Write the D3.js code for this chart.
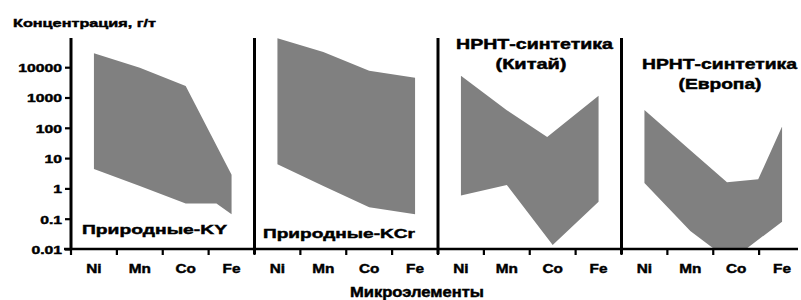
<!DOCTYPE html>
<html><head><meta charset="utf-8">
<script src="https://cdn.jsdelivr.net/npm/d3@7"></script>
<style>
body{margin:0;background:#fff;}
text{font-family:"Liberation Sans",Arial,sans-serif;font-weight:bold;fill:#000;stroke:#000;stroke-width:0.45px;}
</style></head>
<body><svg id="c" width="801" height="300"></svg>
<script>
// ---- data ----
const elements = ["Ni","Mn","Co","Fe"];
const panelNames = ["Природные-KY","Природные-KCr","НРНТ-синтетика (Китай)","НРНТ-синтетика (Европа)"];
const yTickValues = [0.01,0.1,1,10,100,1000,10000];
const yTickLabels = ["0.01","0.1","1","10","100","1000","10000"];
// [element position (0=Ni..3=Fe), concentration g/t]
const kyUpper  = [[0,29000],[1,9600],[2,2400],[3,2.8]];
const kyLower  = [[0,4.4],[1,1.2],[2,0.32],[2.67,0.32],[3,0.14]];
const kcrUpper = [[0,90000],[1,32000],[2,7600],[3,4500]];
const kcrLower = [[0,6.3],[1,1.2],[2,0.24],[3,0.14]];
const chinaUpper = [[0,5200],[1,380],[1.88,50],[3,1150]];
const chinaLower = [[0,0.58],[1,1.3],[2,0.0135],[3,0.36]];
const europeUpper = [[0,390],[1,18],[1.8,1.6],[2.48,2.0],[3,110]];
const europeLower = [[0,1.5],[1,0.039],[1.87,0.004],[3,0.08]];
const uppers = [kyUpper,kcrUpper,chinaUpper,europeUpper];
const lowers = [kyLower,kcrLower,chinaLower,europeLower];

// ---- layout ----
const svg = d3.select("#c");
const plotTop = 38, axisY = 249;
const keys = panelNames.flatMap((p,i)=>elements.map(e=>i+"-"+e));
const x = d3.scaleBand().domain(keys).range([71,805]).padding(0);
const y = d3.scaleLog().domain([0.01,10000]).range([axisY, axisY-6*30.3]);
const px = (pi,pos)=> x(pi+"-Ni") + x.bandwidth()/2 + pos*x.step();

function stretch(sel, w){ sel.attr("textLength", w).attr("lengthAdjust","spacingAndGlyphs"); }
function stretchBy(sel, f){ sel.each(function(){ const n=this.getComputedTextLength(); d3.select(this).attr("textLength", n*f).attr("lengthAdjust","spacingAndGlyphs"); }); }

// clip
svg.append("clipPath").attr("id","clip").append("rect")
  .attr("x",71).attr("y",0).attr("width",734).attr("height",axisY);

// areas
const g = svg.append("g").attr("clip-path","url(#clip)");
uppers.forEach((up,i)=>{
  const pts = up.concat(lowers[i].slice().reverse());
  const line = d3.line().x(d=>px(i,d[0])).y(d=>y(d[1]));
  g.append("path").attr("d", line(pts)+"Z").attr("fill","#808080");
});

// y axis
const yAxis = svg.append("g").attr("transform","translate(71,0)")
  .call(d3.axisLeft(y).tickValues(yTickValues).tickSize(6).tickPadding(3)
    .tickFormat((d,i)=>yTickLabels[i]));
yAxis.select(".domain").remove();
yAxis.selectAll(".tick line").attr("stroke","#000").attr("stroke-width",2.2);
yAxis.selectAll(".tick text").attr("font-size","11.8px").attr("font-family",null).attr("dy","0.38em").attr("x",-9);
stretchBy(yAxis.selectAll(".tick text"),1.33);
svg.append("line").attr("x1",71).attr("x2",71).attr("y1",plotTop).attr("y2",axisY+1)
  .attr("stroke","#000").attr("stroke-width",3);

// panel separators
[1,2,3].forEach(i=>{
  svg.append("line").attr("x1",x(i+"-Ni")).attr("x2",x(i+"-Ni"))
    .attr("y1",plotTop).attr("y2",axisY+5).attr("stroke","#000").attr("stroke-width",3);
});

// x axis
svg.append("line").attr("x1",64).attr("x2",798).attr("y1",axisY).attr("y2",axisY)
  .attr("stroke","#000").attr("stroke-width",2.4);
keys.forEach(k=>{
  svg.append("line").attr("x1",x(k)).attr("x2",x(k)).attr("y1",axisY).attr("y2",axisY+6)
    .attr("stroke","#000").attr("stroke-width",2.2);
});
const xl = svg.append("g").selectAll("text").data(keys).join("text")
  .attr("x",k=>x(k)+x.bandwidth()/2).attr("y",273).attr("text-anchor","middle")
  .attr("font-size","13px").text(k=>k.split("-")[1]);
stretchBy(xl,1.18);

// titles
stretch(svg.append("text").attr("x",13).attr("y",27).attr("font-size","11.8px").text("Концентрация, г/т"),143);
stretch(svg.append("text").attr("x",350).attr("y",297).attr("font-size","14px").text("Микроэлементы"),134);

// panel labels
stretch(svg.append("text").attr("x",82).attr("y",234).attr("font-size","13.3px").text("Природные-KY"),145);
stretch(svg.append("text").attr("x",263).attr("y",237.5).attr("font-size","13.3px").text("Природные-KCr"),152);
stretch(svg.append("text").attr("x",456).attr("y",48.5).attr("font-size","14px").text("НРНТ-синтетика"),157);
stretch(svg.append("text").attr("x",531).attr("y",68.5).attr("text-anchor","middle").attr("font-size","14px").text("(Китай)"),71);
stretch(svg.append("text").attr("x",642).attr("y",68.5).attr("font-size","14px").text("НРНТ-синтетика"),155);
stretch(svg.append("text").attr("x",720).attr("y",88.5).attr("text-anchor","middle").attr("font-size","14px").text("(Европа)"),83);
</script></body></html>
